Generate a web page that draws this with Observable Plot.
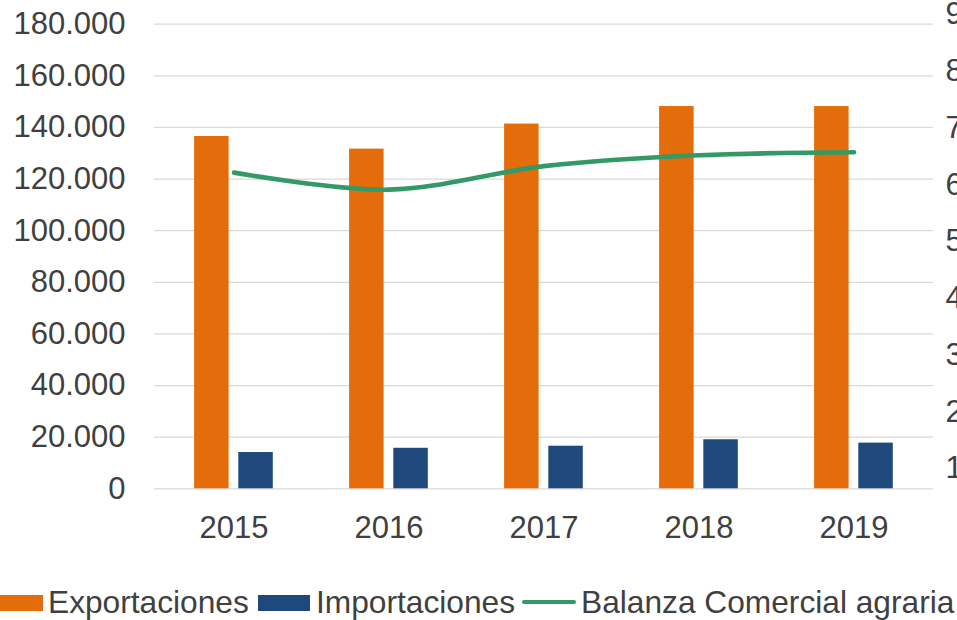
<!DOCTYPE html>
<html><head><meta charset="utf-8">
<script src="https://cdn.jsdelivr.net/npm/d3@7"></script>
<script src="https://cdn.jsdelivr.net/npm/@observablehq/plot@0.6"></script>
<style>
html,body{margin:0;padding:0;background:#fff;overflow:hidden;font-family:"Liberation Sans",Arial,sans-serif;}
#chart svg{display:block}
#legend{position:relative;height:37px;width:957px;font-size:31.7px;color:#404040;line-height:39px;}
#legend .t{position:absolute;top:0;white-space:nowrap}
#legend .sw{position:absolute;top:12px;height:16px;width:52px}
#legend .ln{position:absolute;top:17px;height:4px;width:54px;border-radius:2px}
</style></head><body>
<div id="chart"></div>
<div id="legend"></div>
<script>
// ---- data ----
const years = ["2015", "2016", "2017", "2018", "2019"];
const exportaciones = [136500, 131600, 141300, 148100, 148100];
const importaciones = [14050, 15700, 16500, 19000, 17700];
const balanza = [122500, 115900, 125000, 129200, 130400];
const leftTicks = [0, 20000, 40000, 60000, 80000, 100000, 120000, 140000, 160000, 180000];
const rightTicks = [10000, 20000, 30000, 40000, 50000, 60000, 70000, 80000, 90000];
const rightDomain = [6420, 88290]; // extent of the secondary axis over the plot area
const seriesNames = ["Exportaciones", "Importaciones", "Balanza Comercial agraria"];
const colors = ["#E46C0A", "#1F497D", "#339966"];

const rows = years.map((y, i) => ({year: y, exp: exportaciones[i], imp: importaciones[i], bal: balanza[i]}));
const loc = d3.formatLocale({decimal: ",", thousands: ".", grouping: [3], currency: ["", "€"]});
const fmt = loc.format(",.0f");
const toLeft = d3.scaleLinear().domain(rightDomain).range([0, 180000]);
const rightPos = rightTicks.map(toLeft);
const rightLabel = new Map(rightPos.map((p, i) => [p, fmt(rightTicks[i])]));

const chart = Plot.plot({
  width: 957,
  height: 583,
  marginLeft: 154,
  marginRight: 24,
  marginTop: 23.7,
  marginBottom: 94.7,
  style: {fontFamily: "'Liberation Sans', Arial, sans-serif", fontSize: "31px", color: "#404040", background: "#fff"},
  x: {type: "band", domain: years, padding: 0},
  y: {domain: [0, 180000]},
  marks: [
    Plot.gridY(leftTicks, {stroke: "#D9D9D9", strokeOpacity: 1, strokeWidth: 1.3}),
    Plot.barY(rows, {x: "year", y: "exp", fill: colors[0], insetLeft: 38.1, insetRight: 82.4}),
    Plot.barY(rows, {x: "year", y: "imp", fill: colors[1], insetLeft: 82.3, insetRight: 38.2}),
    Plot.line(rows, {x: "year", y: "bal", stroke: colors[2], strokeWidth: 4.6, curve: "catmull-rom", strokeLinecap: "round"}),
    Plot.axisY(leftTicks, {anchor: "left", tickSize: 0, tickPadding: 29, tickFormat: fmt, label: null, fontSize: 31, fill: "#404040"}),
    Plot.axisY(rightPos, {anchor: "right", tickSize: 0, tickPadding: 12, tickFormat: d => rightLabel.get(d), label: null, fontSize: 31, fill: "#404040"}),
    Plot.axisX({tickSize: 0, tickPadding: 27, label: null, fontSize: 31, fill: "#404040"})
  ]
});
document.getElementById("chart").appendChild(chart);

// ---- legend ----
const lg = document.getElementById("legend");
const items = [
  {kind: "sw", sx: -9, tx: 48},
  {kind: "sw", sx: 258, tx: 316},
  {kind: "ln", sx: 522, tx: 581}
];
items.forEach((it, i) => {
  const s = document.createElement("div");
  s.className = it.kind;
  s.style.left = it.sx + "px";
  s.style.background = colors[i];
  lg.appendChild(s);
  const t = document.createElement("div");
  t.className = "t";
  t.style.left = it.tx + "px";
  t.textContent = seriesNames[i];
  lg.appendChild(t);
});
</script>
</body></html>
